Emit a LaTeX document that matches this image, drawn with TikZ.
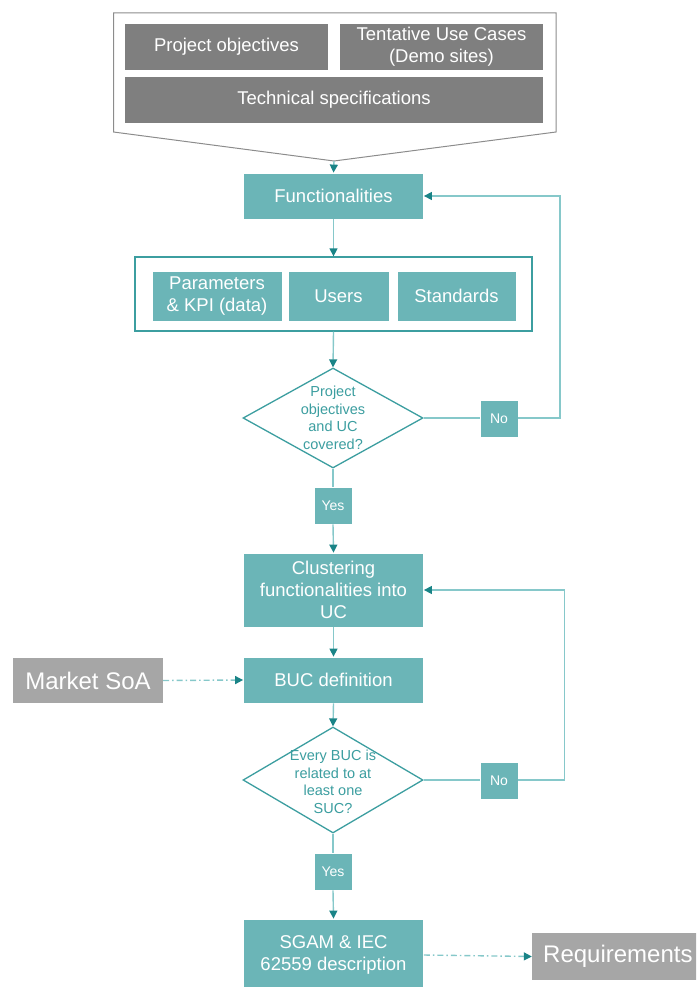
\documentclass[tikz,border=0pt]{standalone}
\usepackage{fontspec}
\setmainfont{Liberation Sans}
\usetikzlibrary{shapes.geometric,arrows.meta}
\definecolor{tealfill}{HTML}{6BB5B7}
\definecolor{tealline}{HTML}{86C8CA}
\definecolor{tealdark}{HTML}{1A8487}
\definecolor{tealedge}{HTML}{3C9EA0}
\definecolor{darkgray}{HTML}{7F7F7F}
\definecolor{lightgray}{HTML}{A6A6A6}
\definecolor{outlinegray}{HTML}{8C8C8C}
\tikzset{
  box/.style={fill=tealfill, draw=white, line width=0.8pt, text=white, align=center,
    font=\fontsize{18.5}{22}\selectfont, inner sep=0pt},
  graybox/.style={fill=darkgray, draw=white, line width=0.8pt, text=white, align=center,
    font=\fontsize{18.5}{22}\selectfont, inner sep=0pt},
  sidebox/.style={fill=lightgray, text=white, align=center,
    font=\fontsize{24}{28}\selectfont, inner sep=0pt},
  tag/.style={fill=tealfill, draw=white, line width=0.8pt, text=white,
    font=\fontsize{14}{16}\selectfont, minimum width=38pt, minimum height=37pt, inner sep=0pt},
  decision/.style={diamond, draw=tealedge, line width=1.3pt, fill=white,
    inner sep=0pt, aspect=1.8, minimum width=180pt, minimum height=100pt},
  decisiontext/.style={text=tealedge, align=center,
    font=\fontsize{14.5}{17.5}\selectfont, inner sep=0pt},
  link/.style={draw=tealline, line width=1.4pt},
  flow/.style={link, -{Triangle[length=8pt,width=8pt,color=tealdark]}},
  feed/.style={draw=tealline, line width=1.4pt, dash pattern=on 6pt off 3pt on 1.5pt off 3pt,
    -{Triangle[length=8pt,width=8pt,color=tealdark]}},
}
\begin{document}
\begin{tikzpicture}[x=1pt,y=-1pt]
\useasboundingbox (0,0) rectangle (696,987);
\clip (0,0) rectangle (696,987);

% inputs chevron
\draw[outlinegray, line width=1pt] (113.5,13) -- (556,13) -- (556,132) -- (334,161) -- (113.5,132) -- cycle;
\coordinate (tip) at (334,161);
\node[graybox, minimum width=204pt, minimum height=47pt] (obj) at (226.5,46.5) {Project objectives};
\node[graybox, minimum width=204pt, minimum height=47pt] (tuc) at (441.5,46.5) {Tentative Use Cases\\(Demo sites)};
\node[graybox, minimum width=419pt, minimum height=47pt] (tech) at (334,100) {Technical specifications};

% main flow
\node[box, minimum width=180pt, minimum height=46pt] (func) at (333.5,196) {Functionalities};

\node[draw=tealedge, line width=1.3pt, fill=white, minimum width=397pt, minimum height=74pt, inner sep=0pt] (group) at (333.5,294) {};
\node[box, minimum width=130pt, minimum height=50pt] (par) at (217,296) {Parameters\\\& KPI (data)};
\node[box, minimum width=101pt, minimum height=50pt] (users) at (338.5,296) {Users};
\node[box, minimum width=119pt, minimum height=50pt] (std) at (456.5,296) {Standards};

\node[decision] (dec1) at (333,418) {};
\node[decisiontext] (dec1txt) at (333,418) {Project\\objectives\\and UC\\covered?};
\node[tag] (no1) at (499,419) {No};
\node[tag] (yes1) at (333,505.5) {Yes};

\node[box, minimum width=180pt, minimum height=74pt] (clus) at (333.5,590) {Clustering\\functionalities into\\UC};
\node[box, minimum width=180pt, minimum height=46pt] (buc) at (333.5,680) {BUC definition};
\node[sidebox, minimum width=150pt, minimum height=45pt] (soa) at (88,680.5) {Market SoA};

\node[decision, minimum height=106pt] (dec2) at (333,780) {};
\node[decisiontext] (dec2txt) at (333,782) {Every BUC is\\related to at\\least one\\SUC?};
\node[tag] (no2) at (499,780.5) {No};
\node[tag] (yes2) at (333,871.5) {Yes};

\node[box, minimum width=180pt, minimum height=72pt] (sgam) at (333.5,955) {SGAM \& IEC\\62559 description};
\node[sidebox, minimum width=170pt, minimum height=47pt] (req) at (617,956.5) {};
\node[text=white, font=\fontsize{24}{28}\selectfont, anchor=west, inner sep=0pt] (reqtxt) at (543,956.5) {Requirements};

% connectors
\draw[flow] (tip) -- (func.north);
\draw[flow] (func.south) -- (group.north);
\draw[flow] (group.south) -- (dec1.north);
\draw[link] (dec1.east) -- (dec1.east -| no1.west);
\draw[flow] (no1.east |- dec1.east) -- (560,418) -- (560,196) -- (func.east);
\draw[link] (dec1.south) -- (yes1.north);
\draw[flow] (yes1.south) -- (clus.north);
\draw[flow] (clus.south) -- (buc.north);
\draw[feed] (soa.east) -- (buc.west);
\draw[flow] (buc.south) -- (dec2.north);
\draw[link] (dec2.east) -- (dec2.east -| no2.west);
\draw[flow] (no2.east |- dec2.east) -- (564.5,780) -- (564.5,590) -- (clus.east);
\draw[link] (dec2.south) -- (yes2.north);
\draw[flow] (yes2.south) -- (sgam.north);
\draw[feed] (sgam.east) -- (req.west);
\end{tikzpicture}
\end{document}
